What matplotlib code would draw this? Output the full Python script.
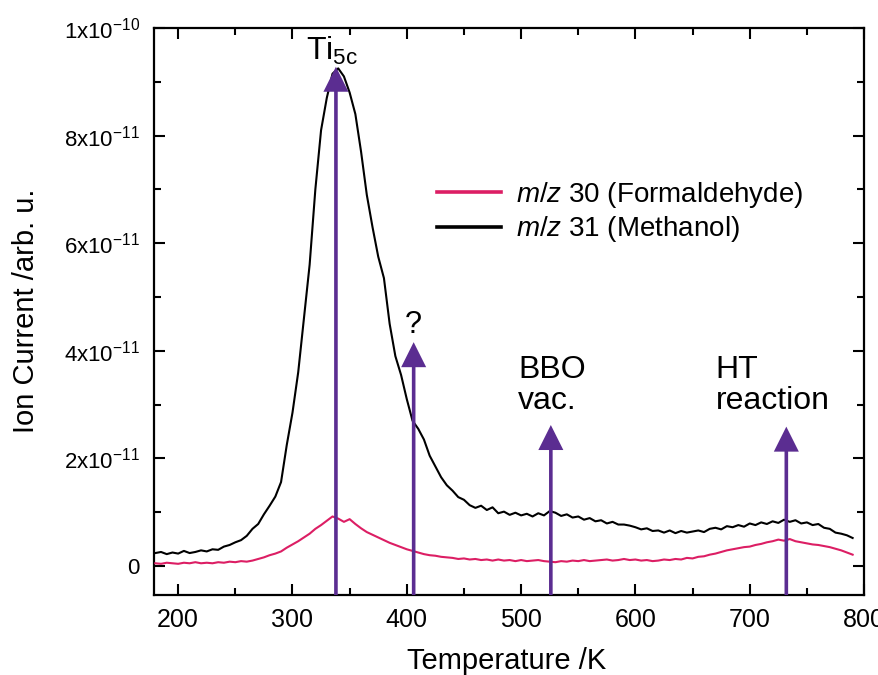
import matplotlib
matplotlib.use("Agg")
import matplotlib.pyplot as plt
from matplotlib.ticker import MultipleLocator, FuncFormatter
import numpy as np

plt.rcParams['font.family'] = ['Liberation Sans', 'DejaVu Sans']
plt.rcParams['mathtext.fontset'] = 'custom'
plt.rcParams['mathtext.rm'] = 'Liberation Sans'
plt.rcParams['mathtext.it'] = 'Liberation Sans:italic'

# temperature grid (K), values in units of 1e-12
temperature = list(range(180, 795, 5))

methanol = [
    2.4, 2.6, 2.2, 2.5, 2.3, 2.8, 2.4, 2.6, 2.9, 2.7,
    3.1, 3.0, 3.6, 3.9, 4.4, 4.8, 5.6, 6.9, 7.8, 9.6,
    11.2, 12.9, 15.6, 22.5, 28.5, 36.0, 46.0, 56.0, 70.0, 81.0,
    87.0, 91.5, 92.5, 91.0, 88.0, 84.0, 77.0, 69.0, 63.0, 57.5,
    53.5, 45.0, 39.0, 35.5, 31.0, 27.0, 25.5, 23.5, 20.5, 18.5,
    16.5, 15.0, 14.0, 12.8, 12.3, 11.3, 10.8, 11.2, 10.4, 10.9,
    9.8, 10.1, 9.5, 9.9, 9.4, 9.7, 9.2, 9.8, 9.4, 10.2,
    9.9, 9.3, 9.6, 9.0, 9.2, 8.6, 8.9, 8.3, 8.5, 7.9,
    8.2, 7.7, 7.7, 7.5, 7.2, 6.8, 7.0, 6.5, 6.6, 6.2,
    6.6, 6.1, 6.5, 6.2, 6.4, 6.6, 6.3, 6.9, 7.1, 6.8,
    7.4, 7.2, 7.6, 7.3, 7.9, 7.6, 8.1, 7.8, 8.3, 8.0,
    8.6, 8.2, 8.5, 7.9, 8.1, 7.6, 7.8, 7.1, 6.9, 6.2,
    6.0, 5.7, 5.2,
]

formaldehyde = [
    0.5, 0.4, 0.6, 0.5, 0.4, 0.6, 0.5, 0.7, 0.5, 0.6,
    0.5, 0.7, 0.6, 0.8, 0.7, 0.9, 0.8, 1.0, 1.3, 1.6,
    2.0, 2.3, 2.7, 3.4, 4.0, 4.6, 5.3, 6.0, 6.9, 7.6,
    8.4, 9.2, 8.8, 8.2, 8.7, 7.8, 7.0, 6.3, 5.8, 5.3,
    4.8, 4.3, 3.9, 3.5, 3.1, 2.8, 2.5, 2.2, 2.0, 1.9,
    1.7, 1.6, 1.5, 1.3, 1.4, 1.2, 1.3, 1.1, 1.2, 1.0,
    1.2, 1.0, 1.1, 0.9, 1.1, 0.9, 1.0, 1.1, 0.9, 0.8,
    0.7, 0.9, 0.8, 1.0, 0.9, 1.1, 0.9, 1.0, 1.1, 1.2,
    1.0, 1.1, 1.3, 1.1, 1.2, 1.0, 1.1, 0.9, 1.0, 1.2,
    1.1, 1.3, 1.2, 1.5, 1.4, 1.7, 1.8, 2.1, 2.3, 2.6,
    2.9, 3.1, 3.3, 3.5, 3.6, 3.9, 4.1, 4.4, 4.6, 4.9,
    4.7, 5.0, 4.6, 4.4, 4.2, 4.0, 3.9, 3.7, 3.5, 3.2,
    2.9, 2.5, 2.1,
]

# arrow markers: position (K) and tip height (1e-12)
arrow_temps = [338, 406, 526, 732]
arrow_tips = [92.8, 41.6, 26.2, 25.9]

purple = '#5b2d91'
pink = '#dc1e64'
scale = 1e-12

fig = plt.figure(figsize=(8.79, 6.75), dpi=100)
ax = fig.add_axes([0.175, 0.1185, 0.808, 0.84])

T = np.array(temperature)
ax.plot(T, np.array(formaldehyde) * scale, color=pink, lw=1.5,
        label=r'$\it{m/z}$ 30 (Formaldehyde)', zorder=3)
ax.plot(T, np.array(methanol) * scale, color='black', lw=1.5,
        label=r'$\it{m/z}$ 31 (Methanol)', zorder=3)

ymin, ymax = -5.4e-12, 1.0e-10
ax.set_xlim(178.7, 800)
ax.set_ylim(ymin, ymax)

for t, tip in zip(arrow_temps, arrow_tips):
    ax.annotate('', xy=(t, tip * scale), xytext=(t, ymin),
                arrowprops=dict(width=2.6, headwidth=18, headlength=18,
                                shrink=0, color=purple, lw=0),
                zorder=4, annotation_clip=False)

ax.text(335, 94e-12, r'Ti$_{\mathrm{5c}}$', fontsize=23, ha='center', va='baseline')
ax.text(406, 43.3e-12, '?', fontsize=22, ha='center', va='baseline')
ax.text(497.5, 39.2e-12, 'BBO\nvac.', fontsize=23, ha='left', va='top',
        linespacing=1.05)
ax.text(670, 39.2e-12, 'HT\nreaction', fontsize=23, ha='left', va='top',
        linespacing=1.05)

ax.xaxis.set_major_locator(MultipleLocator(100))
ax.xaxis.set_minor_locator(MultipleLocator(50))
ax.yaxis.set_major_locator(MultipleLocator(2e-11))
ax.yaxis.set_minor_locator(MultipleLocator(1e-11))


def sci_label(v, pos):
    if abs(v) < 1e-15:
        return '0'
    exp = int(np.floor(np.log10(abs(v)) + 1e-9))
    mant = v / 10 ** exp
    return r'%dx10$^{%d}$' % (round(mant), exp)


ax.yaxis.set_major_formatter(FuncFormatter(sci_label))

ax.tick_params(which='both', direction='in', top=True, right=True, width=1.5)
ax.tick_params(which='major', length=8)
ax.tick_params(which='minor', length=5)
ax.tick_params(axis='x', which='major', labelsize=18, pad=9)
ax.tick_params(axis='y', which='major', labelsize=16, pad=10)
for s in ax.spines.values():
    s.set_linewidth(1.6)

ax.set_xlabel('Temperature /K', fontsize=21)
ax.xaxis.set_label_coords(0.497, -0.092)
ax.set_ylabel('Ion Current /arb. u.', fontsize=21)
ax.yaxis.set_label_coords(-0.160, 0.502)

leg = ax.legend(loc='center left', bbox_to_anchor=(0.399, 0.675), frameon=False,
                fontsize=20, handlelength=2.3, handletextpad=0.55,
                labelspacing=0.15, borderpad=0, borderaxespad=0)
for line in leg.get_lines():
    line.set_linewidth(2.6)

fig.savefig('out.png', dpi=100)
